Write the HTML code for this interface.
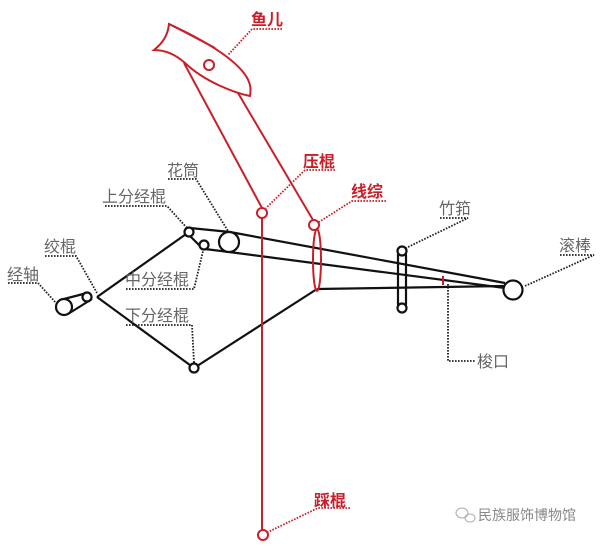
<!DOCTYPE html>
<html><head><meta charset="utf-8"><style>
html,body{margin:0;padding:0;background:#fff;}
svg{display:block;}
.g{font-family:"Liberation Sans","Noto Sans CJK SC",sans-serif;font-size:16px;fill:#666;}
.r{font-family:"Liberation Sans","Noto Sans CJK SC",sans-serif;font-size:16px;font-weight:bold;fill:#c8202a;}
</style></head><body>
<svg width="600" height="555" viewBox="0 0 600 555" xmlns="http://www.w3.org/2000/svg">
<g fill="none" stroke="#222" stroke-width="1.8" stroke-dasharray="1.6 1.4">
<polyline points="8,283 38,283 57,304"/>
<polyline points="45,256 76,256 97,293"/>
<polyline points="105,206 167,206 187,228"/>
<polyline points="168,179 196,179 228,231"/>
<polyline points="126,289 194,289 203,251"/>
<polyline points="126,325 192,325 194,363"/>
<polyline points="440,218 468,218 406,248"/>
<polyline points="560,255 594,255 525,286"/>
<polyline points="448,284 448,361 475,361"/>
</g>
<g fill="none" stroke="#c8202a" stroke-width="1.8" stroke-dasharray="1.6 1.4">
<polyline points="282,29 252,29 228,55"/>
<polyline points="335,170 305,170 266,208"/>
<polyline points="386,201 352,201 319,222"/>
<polyline points="350,508 318,508 268,532"/>
</g>
<g fill="none" stroke="#111" stroke-width="2.2">
<line x1="97" y1="297" x2="189" y2="232"/>
<line x1="97" y1="297" x2="194" y2="368"/>
<line x1="194" y1="368" x2="317" y2="289"/>
<line x1="64" y1="299" x2="87" y2="293"/>
<line x1="68" y1="314" x2="92" y2="299"/>
<polyline points="190,228 230,232 505,283"/>
<polyline points="190,236 200,246"/>
<polyline points="205,249 229,252 505,288"/>
<line x1="317" y1="289" x2="505" y2="286"/>
<circle cx="64" cy="307" r="8" fill="#fff"/>
<circle cx="87" cy="297" r="4.5" fill="#fff"/>
<circle cx="189" cy="232" r="4.5" fill="#fff"/>
<circle cx="204" cy="245" r="4.5" fill="#fff"/>
<circle cx="229" cy="242" r="10" fill="#fff"/>
<circle cx="194" cy="368" r="4.5" fill="#fff"/>
<rect x="398" y="251" width="8" height="57" rx="4"/>
<circle cx="402" cy="251" r="4.5" fill="#fff"/>
<circle cx="402" cy="308" r="4.5" fill="#fff"/>
<circle cx="513" cy="290" r="9.5" fill="#fff"/>
</g>
<g fill="none" stroke="#c8202a" stroke-width="2">
<path d="M169,24 C195,36 232,55 246,76 C251,84 251,90 250,96 C235,93 205,82 185,63 C175,54 165,50 154,50 C164,42 168,34 169,24 Z"/>
<path d="M169,24 C185,32 200,40 215,48"/>
<circle cx="209" cy="65" r="5"/>
<line x1="184" y1="63" x2="262" y2="208"/>
<line x1="238" y1="93" x2="313" y2="220"/>
<circle cx="262" cy="213" r="5"/>
<line x1="262" y1="218" x2="262" y2="530"/>
<circle cx="263" cy="535" r="5"/>
<circle cx="314" cy="225" r="5"/>
<ellipse cx="317" cy="260" rx="4" ry="31"/>
<line x1="443" y1="276" x2="443" y2="285"/>
</g>
<text class="g" x="7" y="280">经轴</text>
<text class="g" x="44" y="252">绞棍</text>
<text class="g" x="102" y="202">上分经棍</text>
<text class="g" x="167" y="176">花筒</text>
<text class="g" x="125" y="285">中分经棍</text>
<text class="g" x="125" y="321">下分经棍</text>
<text class="g" x="439" y="214">竹筘</text>
<text class="g" x="559" y="251">滚棒</text>
<text class="g" x="477" y="367">梭口</text>
<text class="r" x="251" y="25">鱼儿</text>
<text class="r" x="303" y="167">压棍</text>
<text class="r" x="351" y="197">线综</text>
<text class="r" x="314" y="506">踩棍</text>
<text x="478" y="520" style="font-family:'Liberation Sans','Noto Sans CJK SC',sans-serif;font-size:14px;fill:#888">民族服饰博物馆</text>
<g fill="none" stroke="#aaa" stroke-width="1"><ellipse cx="462" cy="513" rx="6" ry="5"/><ellipse cx="470" cy="518" rx="5" ry="4"/></g>
</svg>
</body></html>
